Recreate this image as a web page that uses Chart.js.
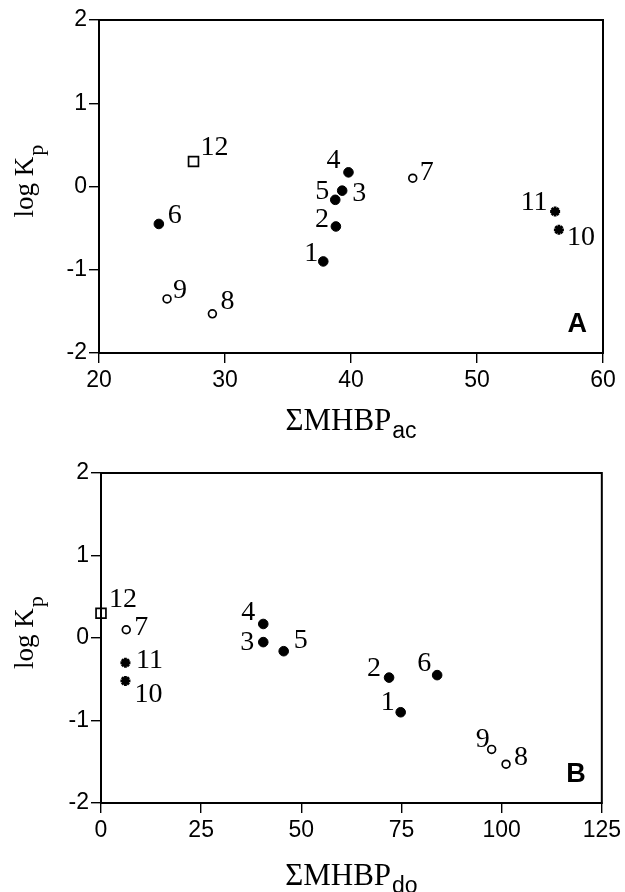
<!DOCTYPE html>
<html>
<head>
<meta charset="utf-8">
<script src="https://cdn.jsdelivr.net/npm/chart.js@4/dist/chart.umd.min.js"></script>
<style>
    body { margin: 0; background: #fff; }
    .panel { position: absolute; left: 0; }
</style>
</head>
<body>
<div class="panel" style="top:0"><canvas id="chartA" width="625" height="440"></canvas></div>
<div class="panel" style="top:440px"><canvas id="chartB" width="625" height="452"></canvas></div>
<script>
// compound numbers and measured values
const compounds = ['1', '2', '3', '4', '5', '6', '7', '8', '9', '10', '11', '12'];
const compoundType = ['filled', 'filled', 'filled', 'filled', 'filled', 'filled', 'open', 'open', 'open', 'star', 'star', 'square'];
const logKp = [-0.90, -0.48, -0.05, 0.17, -0.16, -0.45, 0.10, -1.53, -1.35, -0.52, -0.30, 0.30];
const mhbpAc = [37.8, 38.8, 39.3, 39.8, 38.75, 24.75, 44.9, 29.0, 25.4, 56.5, 56.2, 27.5];
const mhbpDo = [74.8, 71.9, 40.5, 40.5, 45.6, 83.9, 6.3, 101.1, 97.5, 6.1, 6.1, 0];
const yTicks = [-2, -1, 0, 1, 2];
const xTicksA = [20, 30, 40, 50, 60];
const xTicksB = [0, 25, 50, 75, 100, 125];

// where each number sits relative to its point (px)
const labelOffsetA = [[-12, -8], [-14, -7], [17, 3], [-15, -12], [-13, -8], [16, -8],
    [14, -6], [15, -12], [13, -8], [22, 8], [-21, -9], [21, -14]];
const labelOffsetB = [[-13, -10], [-15, -9], [-16, 1], [-15, -11], [17, -11], [-13, -11],
    [15, -2], [15, -7], [-9, -10], [23, 14], [24, -2], [22, -14]];

const markerStyles = {
    filled: { pointStyle: 'circle', pointRadius: 4.8, pointBackgroundColor: '#000', pointBorderColor: '#000', pointBorderWidth: 1 },
    open: { pointStyle: 'circle', pointRadius: 3.9, pointBackgroundColor: '#fff', pointBorderColor: '#000', pointBorderWidth: 1.7 },
    star: { pointStyle: 'star', pointRadius: 5, pointBackgroundColor: '#000', pointBorderColor: '#000', pointBorderWidth: 2.8 },
    square: { pointStyle: 'rect', pointRadius: 7, pointBackgroundColor: '#fff', pointBorderColor: '#000', pointBorderWidth: 1.7 }
};

function buildDatasets(xs) {
    return Object.keys(markerStyles).map(type => {
        const pts = [];
        compounds.forEach((c, i) => {
            if (compoundType[i] === type) pts.push({ x: xs[i], y: logKp[i] });
        });
        return Object.assign({ label: type, data: pts, clip: false }, markerStyles[type]);
    });
}

function panelPlugin(opts) {
    return {
        id: 'panelDecor',
        afterDatasetsDraw(chart) {
            const ctx = chart.ctx;
            const area = chart.chartArea;
            const xs = chart.scales.x, ys = chart.scales.y;
            ctx.save();

            // frame
            ctx.strokeStyle = '#000';
            ctx.lineWidth = 2;
            ctx.strokeRect(area.left, area.top, area.right - area.left, area.bottom - area.top);

            // point numbers
            ctx.fillStyle = '#000';
            ctx.font = '28px "Liberation Serif"';
            ctx.textAlign = 'center';
            ctx.textBaseline = 'middle';
            compounds.forEach((c, i) => {
                const px = xs.getPixelForValue(opts.xs[i]);
                const py = ys.getPixelForValue(logKp[i]);
                ctx.fillText(c, px + opts.offsets[i][0], py + opts.offsets[i][1]);
            });

            // panel letter
            ctx.font = 'bold 27px "Liberation Sans"';
            ctx.textAlign = 'right';
            ctx.textBaseline = 'alphabetic';
            ctx.fillText(opts.letter, area.right - 16, area.bottom - 21);

            // x title with subscript
            ctx.textAlign = 'left';
            ctx.font = '31px "Liberation Serif"';
            const main = '\u03A3MHBP';
            const wMain = ctx.measureText(main).width;
            ctx.font = '23px "Liberation Sans"';
            const wSub = ctx.measureText(opts.sub).width;
            const cx = (area.left + area.right) / 2;
            const x0 = cx - (wMain + wSub + 1) / 2;
            const base = area.bottom + opts.titleGap;
            ctx.font = '31px "Liberation Serif"';
            ctx.fillText(main, x0, base);
            ctx.font = '23px "Liberation Sans"';
            ctx.fillText(opts.sub, x0 + wMain + 1, base + 8);

            // y title, rotated
            ctx.translate(33, (area.top + area.bottom) / 2 + 31);
            ctx.rotate(-Math.PI / 2);
            ctx.font = '27px "Liberation Serif"';
            ctx.fillText('log K', 0, 0);
            const wK = ctx.measureText('log K').width;
            ctx.font = '22px "Liberation Serif"';
            ctx.fillText('p', wK + 1, 10);
            ctx.restore();
        }
    };
}

function makeChart(id, xs, xTicks, yAxisWidth, xAxisHeight, padding, plugin) {
    const tickFont = { family: '"Liberation Sans"', size: 23 };
    return new Chart(document.getElementById(id), {
        type: 'scatter',
        data: { datasets: buildDatasets(xs) },
        options: {
            responsive: false,
            animation: false,
            layout: { padding: padding },
            plugins: { legend: { display: false }, tooltip: { enabled: false } },
            scales: {
                x: {
                    type: 'linear',
                    min: xTicks[0],
                    max: xTicks[xTicks.length - 1],
                    afterBuildTicks: s => { s.ticks = xTicks.map(v => ({ value: v })); },
                    afterFit: s => { s.height = xAxisHeight; },
                    grid: { drawOnChartArea: false, drawTicks: true, tickLength: 10, color: '#000', lineWidth: 1.4 },
                    border: { display: true, color: '#000', width: 2 },
                    ticks: { color: '#000', font: tickFont, padding: 4, maxRotation: 0 }
                },
                y: {
                    type: 'linear',
                    min: yTicks[0],
                    max: yTicks[yTicks.length - 1],
                    afterBuildTicks: s => { s.ticks = yTicks.map(v => ({ value: v })); },
                    afterFit: s => { s.width = yAxisWidth; },
                    grid: { drawOnChartArea: false, drawTicks: true, tickLength: 10, color: '#000', lineWidth: 1.4 },
                    border: { display: true, color: '#000', width: 2 },
                    ticks: { color: '#000', font: tickFont, padding: 2 }
                }
            }
        },
        plugins: [plugin]
    });
}

makeChart('chartA', mhbpAc, xTicksA, 99, 87, { top: 20, right: 22, left: 0, bottom: 0 },
    panelPlugin({ xs: mhbpAc, offsets: labelOffsetA, letter: 'A', sub: 'ac', titleGap: 77 }));

makeChart('chartB', mhbpDo, xTicksB, 101, 89, { top: 33, right: 20, left: 0, bottom: 0 },
    panelPlugin({ xs: mhbpDo, offsets: labelOffsetB, letter: 'B', sub: 'do', titleGap: 82 }));
</script>
</body>
</html>
